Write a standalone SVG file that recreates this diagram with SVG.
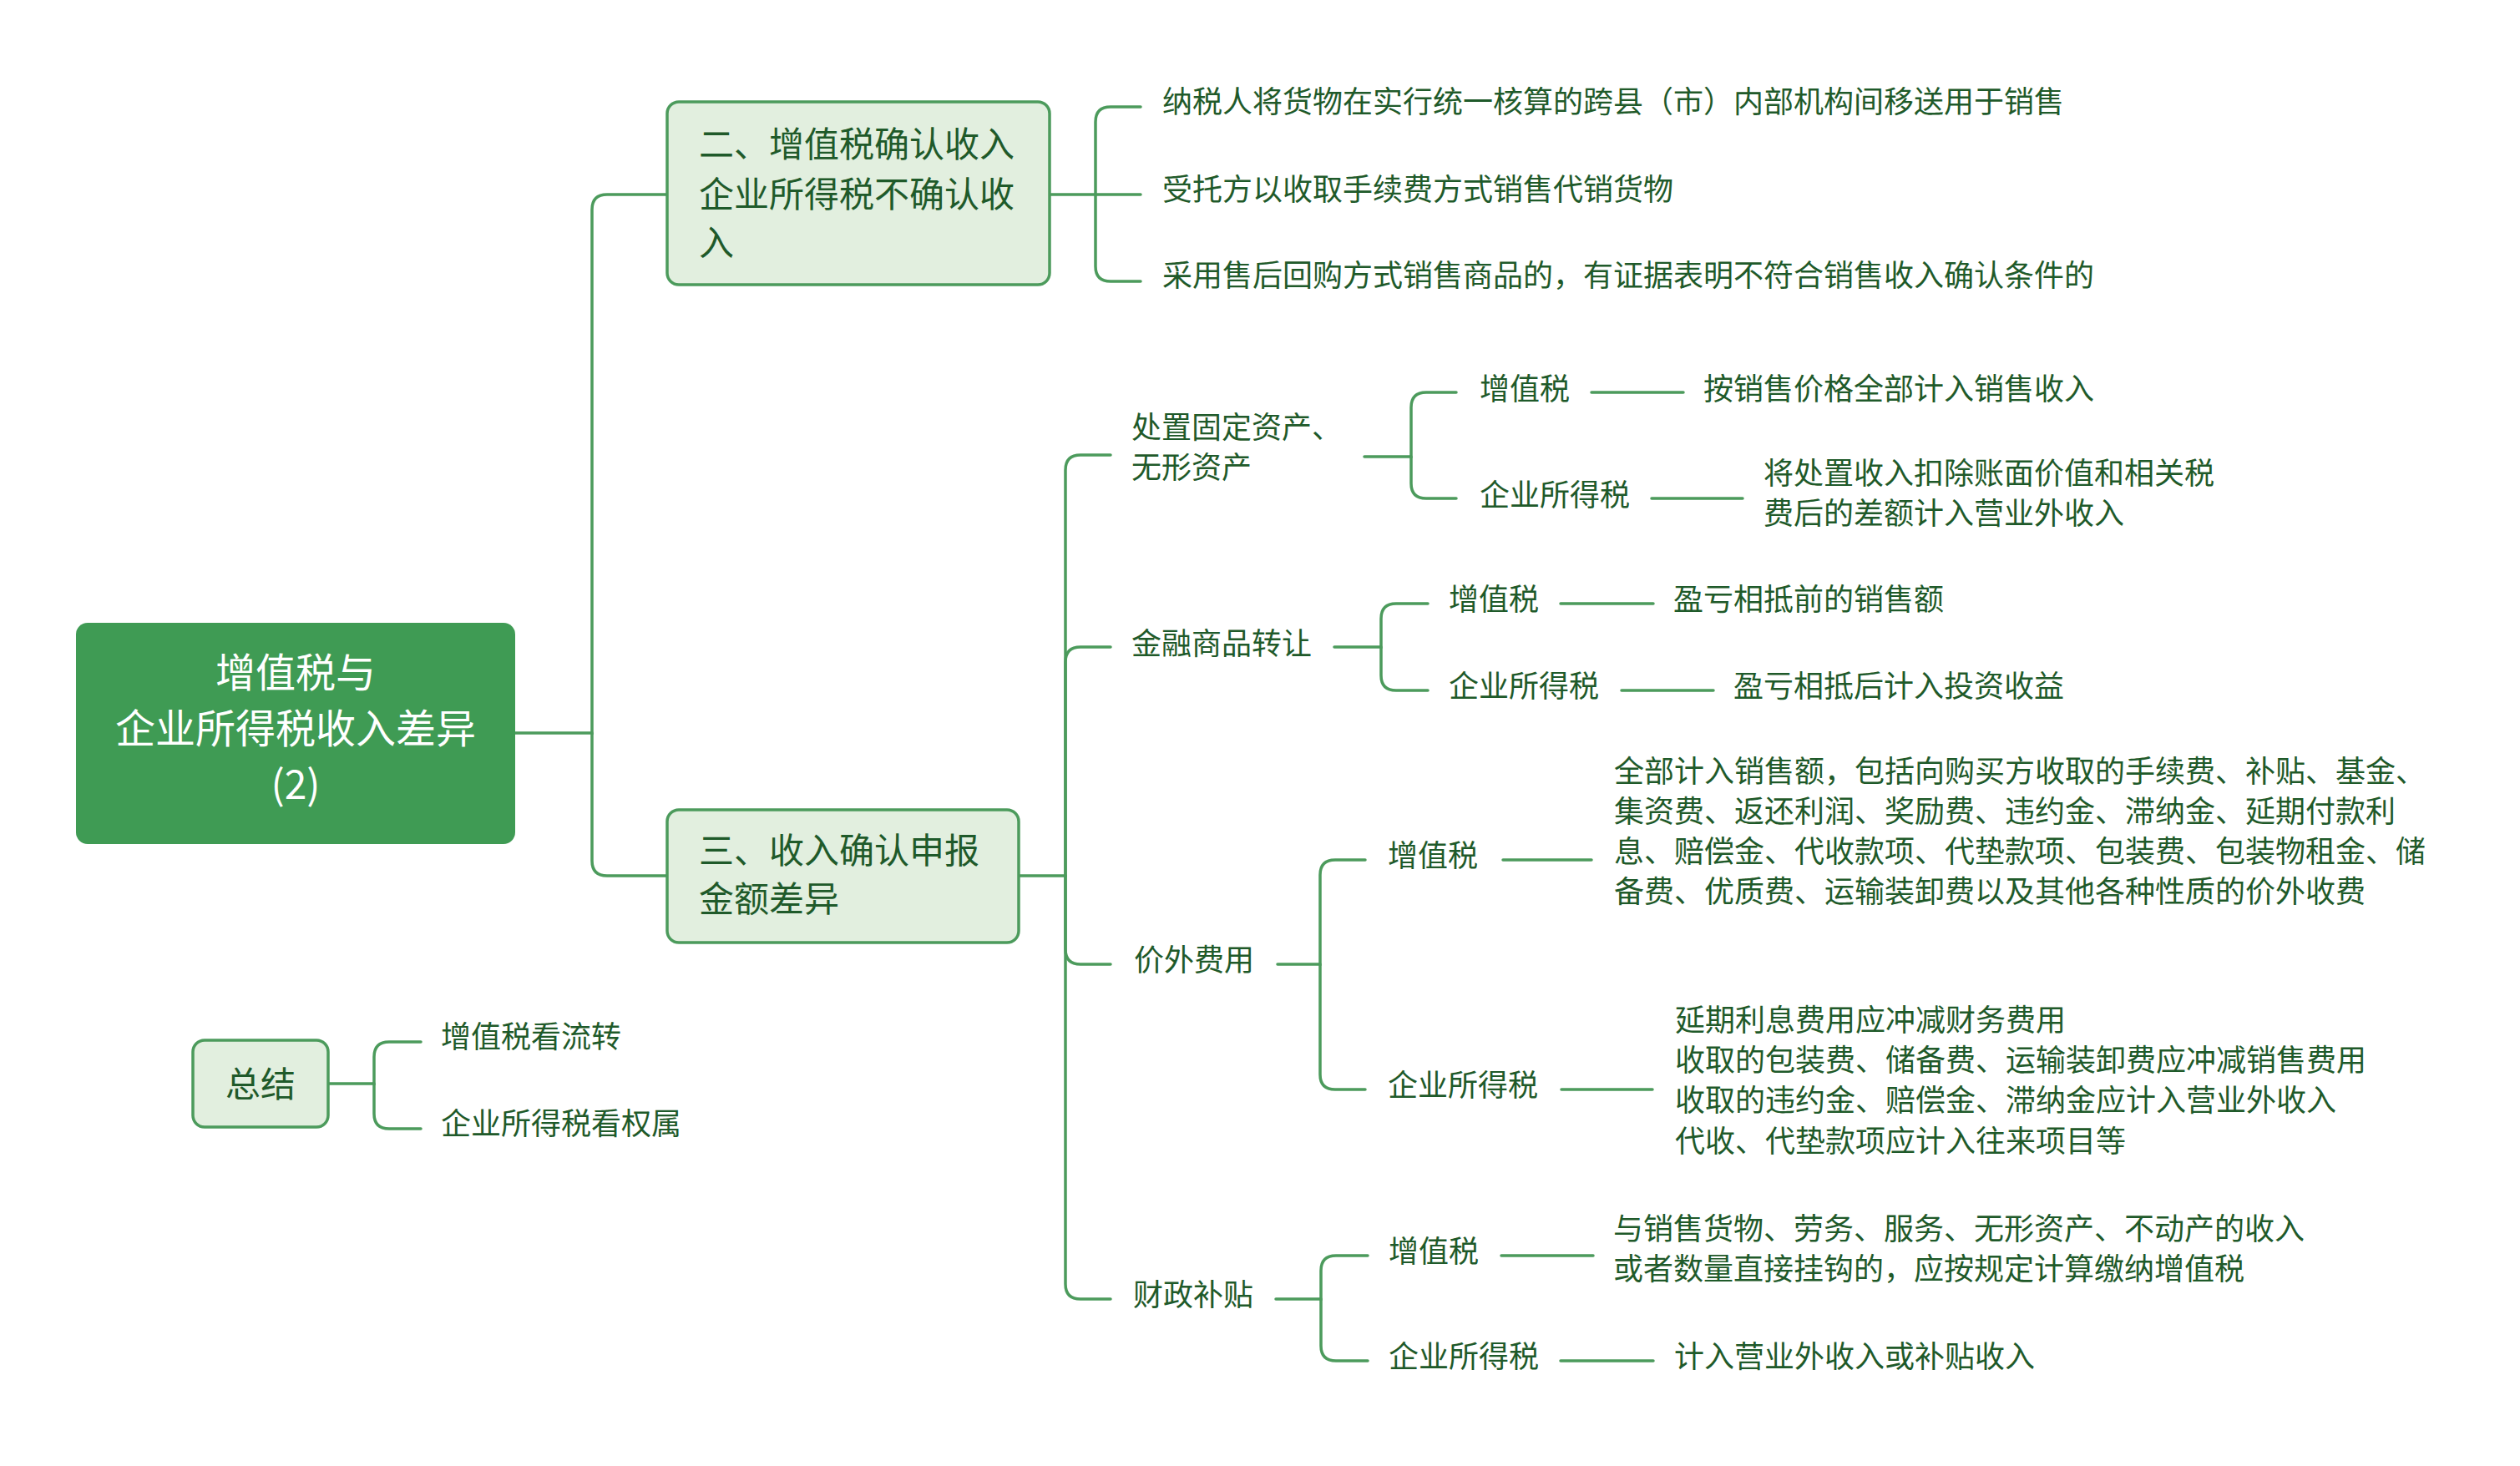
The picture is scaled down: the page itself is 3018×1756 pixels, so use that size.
<svg xmlns="http://www.w3.org/2000/svg" width="3018" height="1756" viewBox="0 0 3018 1756">
<style>
.t{font-family:"Noto Sans CJK SC","Noto Sans",sans-serif;fill:#1f5a2a;dominant-baseline:central}
.s{font-size:36px}
.m{font-size:42px}
.r{font-size:48px;fill:#ffffff;text-anchor:middle}
.c{fill:none;stroke:#4c9b5c;stroke-width:3.5;stroke-linecap:round}
.n{fill:#e2efdf;stroke:#4c9b5c;stroke-width:3.5}
</style>
<rect width="3018" height="1756" fill="#ffffff"/>
<g id="connectors">
<path class="c" d="M617,878 H709 V251 Q709,233 727,233 H799"/>
<path class="c" d="M709,878 V1031 Q709,1049 727,1049 H799"/>
<path class="c" d="M1257,233 H1312 V146 Q1312,128 1330,128 H1366"/>
<path class="c" d="M1312,233 H1366"/>
<path class="c" d="M1312,233 V319 Q1312,337 1330,337 H1366"/>
<path class="c" d="M1220,1049 H1276 V563 Q1276,545 1294,545 H1330"/>
<path class="c" d="M1276,1049 V793 Q1276,775 1294,775 H1330"/>
<path class="c" d="M1276,1049 V1137 Q1276,1155 1294,1155 H1330"/>
<path class="c" d="M1276,1049 V1538 Q1276,1556 1294,1556 H1330"/>
<path class="c" d="M1634,547 H1690 V488 Q1690,470 1708,470 H1744"/>
<path class="c" d="M1690,547 V579 Q1690,597 1708,597 H1744"/>
<path class="c" d="M1906,470 H2016"/>
<path class="c" d="M1978,597 H2087"/>
<path class="c" d="M1598,775 H1654 V741 Q1654,723 1672,723 H1710"/>
<path class="c" d="M1654,775 V809 Q1654,827 1672,827 H1710"/>
<path class="c" d="M1869,723 H1980"/>
<path class="c" d="M1942,827 H2052"/>
<path class="c" d="M1530,1155 H1581 V1048 Q1581,1030 1599,1030 H1635"/>
<path class="c" d="M1581,1155 V1287 Q1581,1305 1599,1305 H1635"/>
<path class="c" d="M1800,1030 H1906"/>
<path class="c" d="M1870,1305 H1979"/>
<path class="c" d="M1528,1556 H1582 V1522 Q1582,1504 1600,1504 H1638"/>
<path class="c" d="M1582,1556 V1612 Q1582,1630 1600,1630 H1638"/>
<path class="c" d="M1798,1504 H1908"/>
<path class="c" d="M1869,1630 H1980"/>
<path class="c" d="M393,1298 H448 V1266 Q448,1248 466,1248 H504"/>
<path class="c" d="M448,1298 V1334 Q448,1352 466,1352 H504"/>
</g>
<g id="root">
<rect x="91" y="746" width="526" height="265" rx="14" fill="#3f9b54"/>
<text class="t r" x="354" y="802">增值税与</text>
<text class="t r" x="354" y="869">企业所得税收入差异</text>
<text class="t r" x="354" y="936">(2)</text>
</g>
<g id="node-2">
<rect class="n" x="799" y="122" width="458" height="219" rx="14"/>
<text class="t m" x="837" y="169">二、增值税确认收入</text>
<text class="t m" x="837" y="229">企业所得税不确认收</text>
<text class="t m" x="837" y="287">入</text>
</g>
<g id="node-2-1"><text class="t s" x="1392" y="119">纳税人将货物在实行统一核算的跨县（市）内部机构间移送用于销售</text></g>
<g id="node-2-2"><text class="t s" x="1392" y="224">受托方以收取手续费方式销售代销货物</text></g>
<g id="node-2-3"><text class="t s" x="1392" y="327">采用售后回购方式销售商品的，有证据表明不符合销售收入确认条件的</text></g>
<g id="node-3">
<rect class="n" x="799" y="970" width="421" height="159" rx="14"/>
<text class="t m" x="837" y="1015">三、收入确认申报</text>
<text class="t m" x="837" y="1073">金额差异</text>
</g>
<g id="node-3-1">
<text class="t s" x="1355" y="509">处置固定资产、</text>
<text class="t s" x="1355" y="557">无形资产</text>
</g>
<g id="node-3-1-1"><text class="t s" x="1772" y="463">增值税</text></g>
<g id="node-3-1-1-1"><text class="t s" x="2040" y="463">按销售价格全部计入销售收入</text></g>
<g id="node-3-1-2"><text class="t s" x="1772" y="590">企业所得税</text></g>
<g id="node-3-1-2-1">
<text class="t s" x="2112" y="564">将处置收入扣除账面价值和相关税</text>
<text class="t s" x="2112" y="612">费后的差额计入营业外收入</text>
</g>
<g id="node-3-2"><text class="t s" x="1355" y="768">金融商品转让</text></g>
<g id="node-3-2-1"><text class="t s" x="1735" y="715">增值税</text></g>
<g id="node-3-2-1-1"><text class="t s" x="2004" y="715">盈亏相抵前的销售额</text></g>
<g id="node-3-2-2"><text class="t s" x="1735" y="819">企业所得税</text></g>
<g id="node-3-2-2-1"><text class="t s" x="2076" y="819">盈亏相抵后计入投资收益</text></g>
<g id="node-3-3"><text class="t s" x="1358" y="1147">价外费用</text></g>
<g id="node-3-3-1"><text class="t s" x="1662" y="1022">增值税</text></g>
<g id="node-3-3-1-1">
<text class="t s" x="1933" y="921">全部计入销售额，包括向购买方收取的手续费、补贴、基金、</text>
<text class="t s" x="1933" y="969">集资费、返还利润、奖励费、违约金、滞纳金、延期付款利</text>
<text class="t s" x="1933" y="1017">息、赔偿金、代收款项、代垫款项、包装费、包装物租金、储</text>
<text class="t s" x="1933" y="1065">备费、优质费、运输装卸费以及其他各种性质的价外收费</text>
</g>
<g id="node-3-3-2"><text class="t s" x="1662" y="1297">企业所得税</text></g>
<g id="node-3-3-2-1">
<text class="t s" x="2006" y="1219">延期利息费用应冲减财务费用</text>
<text class="t s" x="2006" y="1267">收取的包装费、储备费、运输装卸费应冲减销售费用</text>
<text class="t s" x="2006" y="1315">收取的违约金、赔偿金、滞纳金应计入营业外收入</text>
<text class="t s" x="2006" y="1364">代收、代垫款项应计入往来项目等</text>
</g>
<g id="node-3-4"><text class="t s" x="1357" y="1548">财政补贴</text></g>
<g id="node-3-4-1"><text class="t s" x="1663" y="1496">增值税</text></g>
<g id="node-3-4-1-1">
<text class="t s" x="1932" y="1469">与销售货物、劳务、服务、无形资产、不动产的收入</text>
<text class="t s" x="1932" y="1517">或者数量直接挂钩的，应按规定计算缴纳增值税</text>
</g>
<g id="node-3-4-2"><text class="t s" x="1663" y="1622">企业所得税</text></g>
<g id="node-3-4-2-1"><text class="t s" x="2005" y="1622">计入营业外收入或补贴收入</text></g>
<g id="summary">
<rect class="n" x="231" y="1246" width="162" height="104" rx="14"/>
<text class="t m" x="312" y="1295" text-anchor="middle">总结</text>
</g>
<g id="summary-1"><text class="t s" x="528" y="1239">增值税看流转</text></g>
<g id="summary-2"><text class="t s" x="528" y="1343">企业所得税看权属</text></g>
</svg>
